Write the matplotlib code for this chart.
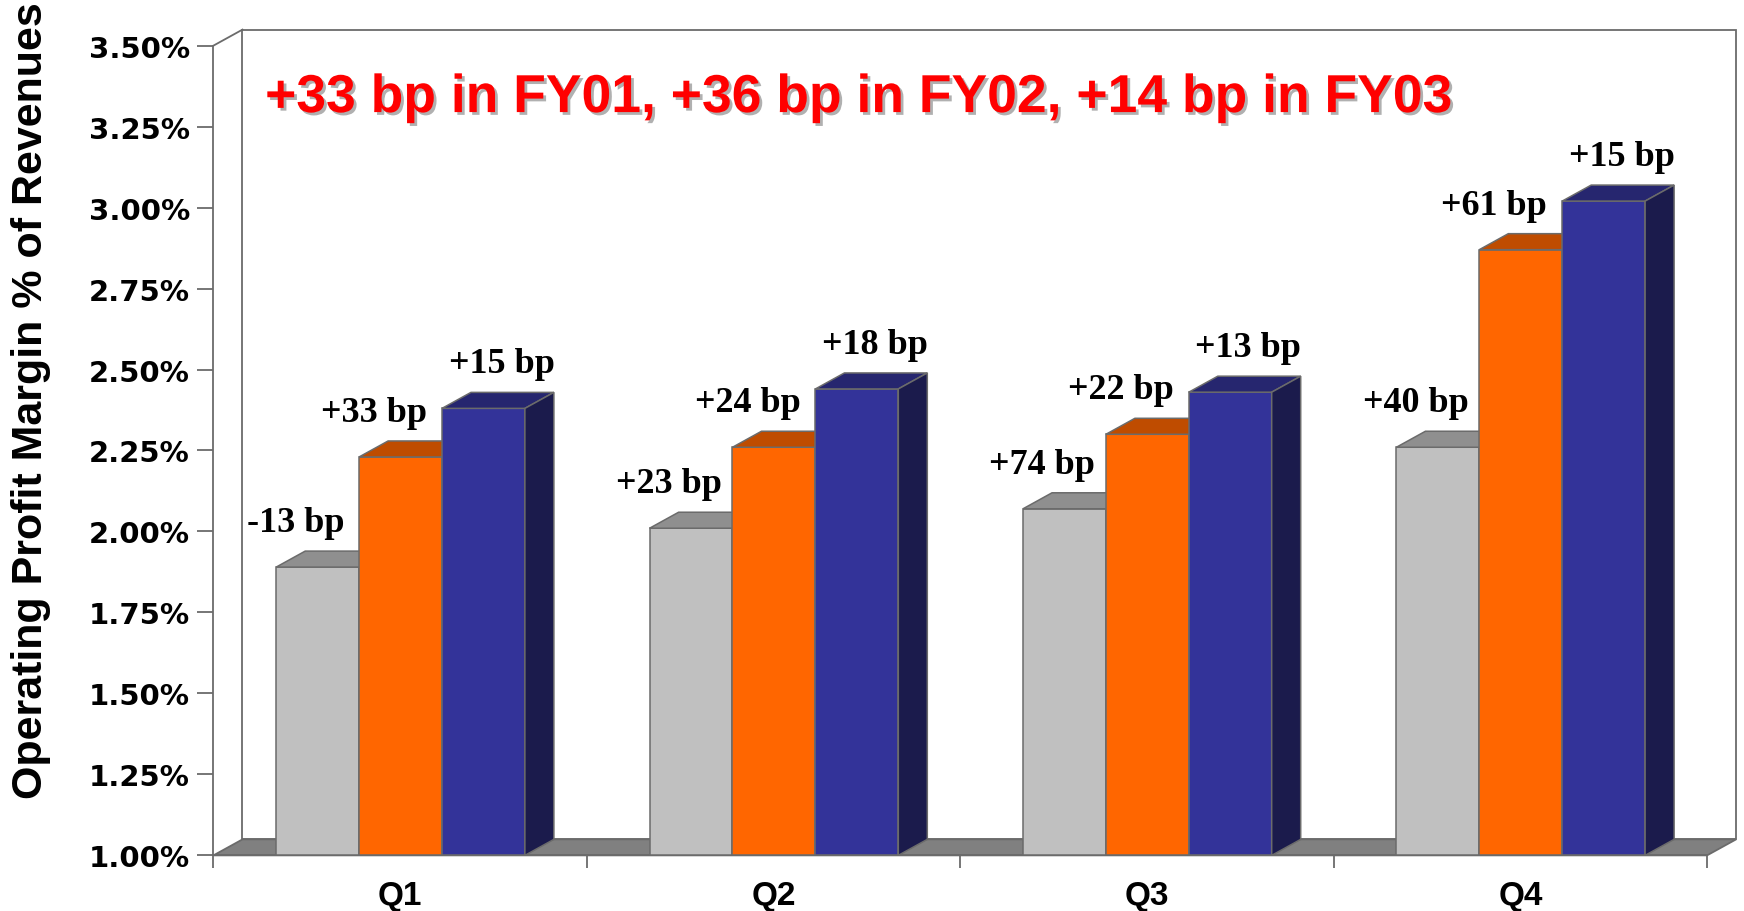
import numpy as np
import matplotlib.pyplot as plt
import matplotlib.patheffects as pe
from matplotlib.patches import Polygon
from matplotlib.ticker import FormatStrFormatter

# date
quarters = ['Q1', 'Q2', 'Q3', 'Q4']
fy01 = [1.89, 2.01, 2.07, 2.26]
fy02 = [2.23, 2.26, 2.30, 2.87]
fy03 = [2.38, 2.44, 2.43, 3.02]
fy01_labels = ['-13 bp', '+23 bp', '+74 bp', '+40 bp']
fy02_labels = ['+33 bp', '+24 bp', '+22 bp', '+61 bp']
fy03_labels = ['+15 bp', '+18 bp', '+13 bp', '+15 bp']
titlu = '+33 bp in FY01, +36 bp in FY02, +14 bp in FY03'
eticheta_y = 'Operating Profit Margin % of Revenues'

# stil
serii = [
    (fy01, fy01_labels, '#C0C0C0', '#8F8F8F', '#8F8F8F', -16),
    (fy02, fy02_labels, '#FF6600', '#BF4C00', '#BF4C00', -19),
    (fy03, fy03_labels, '#333399', '#26266F', '#1B1B4C', 13),
]
DX, DY = 0.0777, 0.0494
lat = 0.222
start = 0.168
gri = '#6b6b6b'

fig = plt.figure(figsize=(17.44, 9.12), dpi=100)
ax = fig.add_axes([0.1224, 0.0610, 0.8757, 0.9092])
ax.set_xlim(0, 4.09)
ax.set_ylim(1.0, 3.56)
ax.set_facecolor('none')

# pereti si podea
ax.fill([DX, 4 + DX, 4 + DX, DX], [1 + DY, 1 + DY, 3.5 + DY, 3.5 + DY],
        facecolor='white', edgecolor=gri, lw=1.3, zorder=0, clip_on=False)
ax.fill([0, 4, 4 + DX, DX], [1, 1, 1 + DY, 1 + DY],
        facecolor='#808080', edgecolor=gri, lw=1.3, zorder=1, clip_on=False)
ax.plot([0, DX], [3.5, 3.5 + DY], color=gri, lw=1.3, zorder=1, clip_on=False)

# bare 3D
x = np.arange(len(quarters))
for k, (vals, labels, fata, sus, lateral, off) in enumerate(serii):
    x0 = x + start + k * lat
    ax.bar(x0, np.array(vals) - 1.0, bottom=1.0, width=lat, align='edge',
           color=fata, edgecolor=gri, lw=1.1, zorder=2 + k)
    for xi, v, lab in zip(x0, vals, labels):
        ax.add_patch(Polygon([(xi, v), (xi + lat, v), (xi + lat + DX, v + DY), (xi + DX, v + DY)],
                             closed=True, facecolor=sus, edgecolor=gri, lw=1.1, zorder=2 + k))
        ax.add_patch(Polygon([(xi + lat, 1.0), (xi + lat + DX, 1.0 + DY), (xi + lat + DX, v + DY), (xi + lat, v)],
                             closed=True, facecolor=lateral, edgecolor=gri, lw=1.1, zorder=2 + k))
        ax.annotate(lab, (xi + lat / 2, v), xytext=(off, 26), textcoords='offset points',
                    ha='center', va='baseline', fontsize=26, fontweight='bold',
                    family='Liberation Serif', color='black', zorder=10)

# axe
for s in ['top', 'right']:
    ax.spines[s].set_visible(False)
ax.spines['left'].set_bounds(1.0, 3.5)
ax.spines['bottom'].set_bounds(0, 4)
for s in ['left', 'bottom']:
    ax.spines[s].set_color(gri)
    ax.spines[s].set_linewidth(1.3)
    ax.spines[s].set_zorder(1.5)

ax.set_yticks(np.arange(1.0, 3.51, 0.25))
ax.yaxis.set_major_formatter(FormatStrFormatter('%.2f%%'))
ax.tick_params(axis='y', length=11.5, width=1.3, color=gri, pad=5.5)
for t in ax.get_yticklabels():
    t.set_fontfamily('DejaVu Sans')
    t.set_fontweight('bold')
    t.set_fontsize(21)

ax.set_xticks(np.arange(0, 5))
ax.set_xticklabels([])
ax.tick_params(axis='x', which='major', length=9.5, width=1.3, color=gri)
ax.set_xticks(x + 0.5, minor=True)
ax.set_xticklabels(quarters, minor=True, fontsize=24, fontweight='bold', family='Liberation Sans')
ax.tick_params(axis='x', which='minor', length=0, pad=18)

fig.text(0.0178, 0.561, eticheta_y, rotation=90, ha='center', va='center',
         fontsize=31, fontweight='bold', family='Liberation Sans')

fig.text(0.1520, 0.876, titlu, ha='left', va='baseline', fontsize=38.5,
         fontweight='bold', family='Liberation Sans', color='red',
         path_effects=[pe.SimplePatchShadow(offset=(2, -2), shadow_rgbFace='#b0b0b0', alpha=1.0),
                       pe.Normal()])

plt.savefig('out.png', dpi=100)
